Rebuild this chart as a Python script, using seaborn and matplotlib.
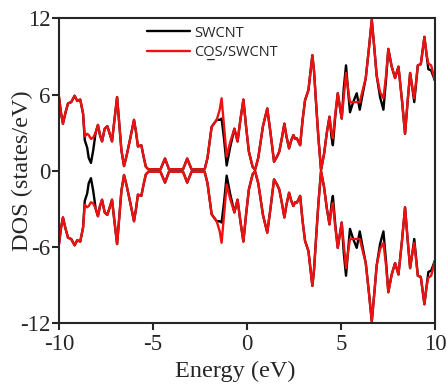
import pandas as pd
import seaborn as sns
import matplotlib.pyplot as plt

# spin-up DOS; spin-down is its mirror image
energy = [-10.0, -9.9, -9.79, -9.65, -9.52, -9.35, -9.17, -9.03, -8.87, -8.72,
          -8.63, -8.5, -8.42, -8.3, -8.18, -8.05, -7.93, -7.82, -7.71, -7.57,
          -7.43, -7.3, -7.18, -7.05, -6.91, -6.8, -6.68, -6.54, -6.4, -6.2,
          -6.01, -5.9, -5.8, -5.62, -5.5, -5.38, -5.25, -4.6, -4.36, -4.15,
          -3.4, -3.18, -2.95, -2.25, -2.1, -1.88, -1.61, -1.45, -1.35, -1.22,
          -1.08, -0.9, -0.67, -0.5, -0.35, -0.19, -0.05, 0.1, 0.3, 0.43,
          0.6, 0.85, 1.08, 1.25, 1.44, 1.6, 1.72, 1.85, 1.99, 2.1,
          2.24, 2.36, 2.47, 2.56, 2.65, 2.83, 2.96, 3.09, 3.27, 3.48,
          3.57, 3.66, 3.8, 3.94, 4.1, 4.25, 4.39, 4.5, 4.57, 4.7,
          4.83, 5.04, 5.15, 5.27, 5.38, 5.48, 5.65, 5.84, 6.0, 6.15,
          6.32, 6.5, 6.64, 6.78, 6.9, 7.08, 7.26, 7.4, 7.52, 7.7,
          7.88, 8.06, 8.25, 8.41, 8.55, 8.68, 8.8, 8.9, 9.09, 9.25,
          9.44, 9.55, 9.65, 9.8, 10.0]

dos_cos = [5.8, 4.6, 3.7, 4.6, 5.3, 5.4, 5.9, 5.5, 5.6, 4.5,
           2.7, 2.9, 2.8, 2.5, 2.6, 3.0, 3.6, 2.8, 2.3, 3.3,
           3.5, 2.9, 2.3, 4.0, 5.8, 3.8, 1.6, 0.35, 1.2, 2.6,
           4.0, 3.0, 1.9, 2.0, 1.1, 0.3, 0.1, 0.1, 0.95, 0.1,
           0.1, 0.95, 0.1, 0.1, 1.0, 3.45, 4.0, 4.8, 5.7, 3.5,
           1.1, 2.2, 3.3, 2.3, 4.0, 5.6, 3.5, 1.5, 0.3, 0.05,
           1.0, 3.5, 4.9, 3.0, 0.7, 1.1, 1.5, 2.5, 3.7, 2.7,
           1.75, 2.4, 2.8, 2.5, 2.55, 2.0, 4.0, 5.55, 6.35, 9.1,
           7.8, 5.7, 2.6, 0.05, 1.3, 3.0, 4.25, 3.0, 2.55, 4.5,
           6.1, 4.1, 5.8, 7.7, 6.4, 5.4, 5.4, 5.4, 5.4, 6.3,
           7.3, 9.8, 11.9, 9.6, 7.5, 6.2, 5.7, 7.5, 9.6, 8.2,
           7.3, 8.2, 5.5, 2.9, 5.5, 7.7, 6.5, 5.7, 8.3, 8.4,
           10.55, 9.2, 8.45, 8.3, 7.1]

dos_swcnt = [5.8, 4.6, 3.7, 4.6, 5.3, 5.4, 5.9, 5.5, 5.6, 4.5,
             2.4, 1.8, 1.0, 0.6, 1.6, 3.0, 3.6, 2.8, 2.3, 3.3,
             3.5, 2.9, 2.3, 4.0, 5.8, 3.8, 1.6, 0.35, 1.2, 2.6,
             4.0, 3.0, 1.9, 2.0, 1.1, 0.3, 0.1, 0.1, 0.95, 0.1,
             0.1, 0.95, 0.1, 0.1, 1.0, 3.45, 4.0, 4.0, 4.1, 2.5,
             0.4, 1.8, 3.3, 2.3, 4.0, 5.6, 3.5, 1.5, 0.3, 0.05,
             1.0, 3.5, 4.9, 3.0, 0.7, 1.1, 1.5, 2.5, 3.7, 2.7,
             1.75, 2.4, 2.8, 2.5, 2.55, 2.0, 4.0, 5.55, 6.35, 9.1,
             7.8, 5.7, 2.6, 0.05, 1.3, 3.0, 4.25, 2.6, 2.0, 4.3,
             6.1, 4.1, 6.5, 8.3, 6.3, 4.6, 5.4, 6.1, 4.8, 6.0,
             7.3, 9.8, 11.9, 9.6, 7.5, 5.8, 4.8, 7.2, 9.6, 8.2,
             7.3, 8.2, 5.5, 2.9, 5.5, 7.7, 6.5, 5.4, 8.3, 8.4,
             10.55, 9.2, 8.0, 7.9, 7.1]

systems = ["SWCNT", "COS/SWCNT"]
colors = {"SWCNT": "black", "COS/SWCNT": "#ee1111"}

n = len(energy)
up = pd.DataFrame({"Energy": energy * 2,
                   "DOS": dos_swcnt + dos_cos,
                   "system": ["SWCNT"] * n + ["COS/SWCNT"] * n})
down = up.copy()
down["DOS"] = -down["DOS"]

sns.set_style("ticks")
plt.rcParams['font.family'] = ['Liberation Serif', 'DejaVu Serif']
plt.rcParams['axes.unicode_minus'] = False

fig, ax = plt.subplots(figsize=(4.47, 3.85), dpi=100)
fig.subplots_adjust(left=0.132, right=0.973, bottom=0.162, top=0.952)

for d, show in [(up, True), (down, False)]:
    sns.lineplot(data=d, x="Energy", y="DOS", hue="system", hue_order=systems,
                 palette=colors, estimator=None, sort=False, lw=1.7,
                 solid_joinstyle='round', ax=ax, legend=show)

ax.set_xlim(-10, 10)
ax.set_ylim(-12, 12)
ax.set_xticks([-10, -5, 0, 5, 10])
ax.set_yticks([-12, -6, 0, 6, 12])
ax.tick_params(direction='out', length=5, width=1.5, labelsize=16.5)
ax.tick_params(axis='y', pad=1)
ax.tick_params(axis='x', pad=3)
for s in ax.spines.values():
    s.set_linewidth(1.5)
ax.set_xlabel("Energy (eV)", fontsize=17.5)
ax.set_ylabel("DOS (states/eV)", fontsize=17.5)
ax.xaxis.set_label_coords(0.47, -0.126)
ax.yaxis.set_label_coords(-0.07, 0.5)

handles, _ = ax.get_legend_handles_labels()
ax.legend(handles[:2], ["SWCNT", "CO\u0332S/SWCNT"],
          loc="upper left", bbox_to_anchor=(0.2, 1.02), frameon=False,
          handlelength=2.9, handletextpad=0.3, labelspacing=0.3,
          prop={'family': ['Open Sans', 'DejaVu Sans'], 'size': 10.5})

plt.savefig("out.png", dpi=100)
